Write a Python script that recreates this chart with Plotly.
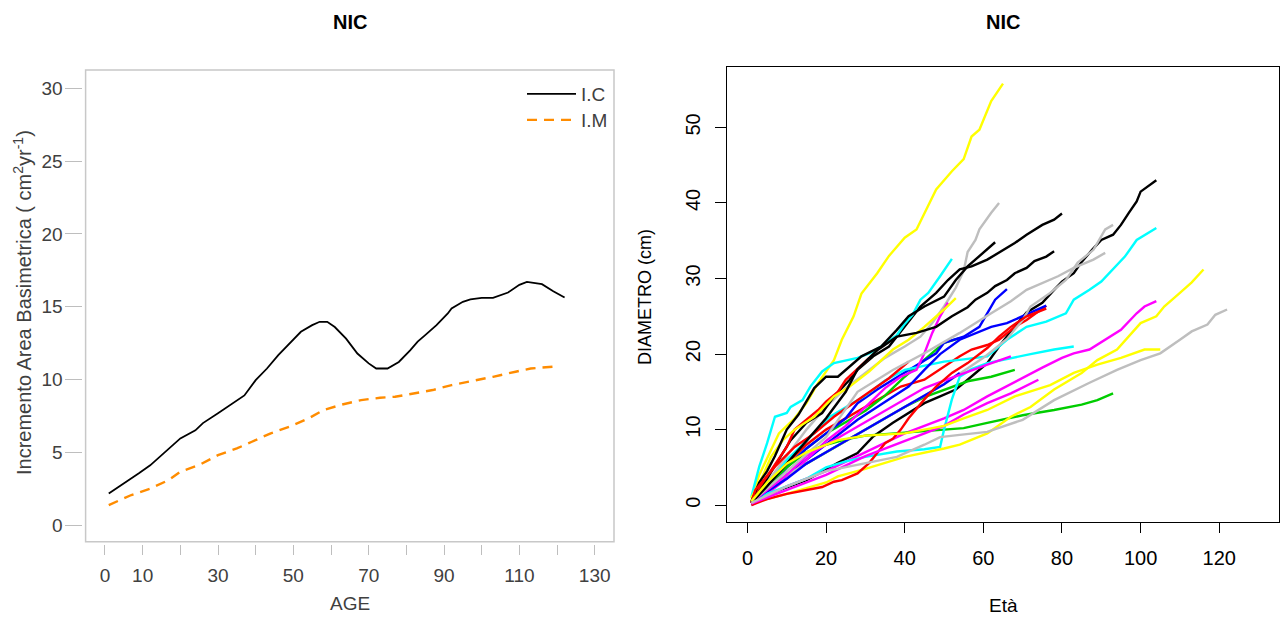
import plotly.graph_objects as go

# ---------------- Left panel data (basal area increment) ----------------
age_ic = [1, 3, 9, 12, 17, 20, 24, 26, 30, 34, 37, 40, 43, 46, 49, 52, 55, 57, 59, 61, 64, 67, 70, 72,
          75, 78, 81, 83, 85, 88, 91, 92, 95, 97, 100, 103, 107, 110, 112, 116, 119, 122]
val_ic = [2.17, 2.5, 3.55, 4.1, 5.26, 5.95, 6.5, 7.0, 7.67, 8.35, 8.9, 9.95, 10.75, 11.67, 12.47, 13.27,
          13.73, 13.96, 13.96, 13.6, 12.8, 11.78, 11.1, 10.75, 10.75, 11.2, 12.0, 12.6, 13.04, 13.73, 14.53,
          14.87, 15.33, 15.5, 15.6, 15.6, 15.97, 16.5, 16.7, 16.54, 16.06, 15.63]
age_im = [1, 7, 12, 17, 20, 25, 30, 35, 39, 44, 49, 54, 58, 63, 68, 73, 77, 82, 87, 92, 98, 103, 109, 113, 120]
val_im = [1.37, 2.06, 2.5, 3.1, 3.66, 4.12, 4.8, 5.26, 5.72, 6.3, 6.75, 7.32, 7.9, 8.28, 8.58, 8.74, 8.81,
          9.04, 9.27, 9.61, 9.91, 10.18, 10.53, 10.75, 10.9]
left_xticks = [0, 10, 30, 50, 70, 90, 110, 130]
left_xminor = [20, 40, 60, 80, 100, 120]
left_yticks = [0, 5, 10, 15, 20, 25, 30]

# ---------------- Right panel data (diameter growth per tree) ----------------
k1_age = [1, 6, 15, 23, 28, 32, 37, 41, 45, 49, 53, 56, 61, 64, 67, 71, 75, 78, 80, 83, 85, 88, 90, 93, 95, 97, 99, 100, 102, 104]
k1_dbh = [0.4, 1.6, 3.3, 5.6, 6.9, 9.1, 10.9, 12.2, 13.5, 14.4, 15.3, 16.6, 18.8, 21.0, 23.0, 25.5, 26.8, 28.5, 29.6, 30.7, 32.2, 34.0, 35.1, 35.8, 37.1, 38.7, 40.2, 41.5, 42.3, 43.0]
r1_age = [1, 5, 10, 15, 20, 25, 30, 35, 39, 45, 50, 54, 57, 61, 64, 68, 71, 74, 76]
r1_dbh = [0.3, 2.5, 5.5, 8.0, 10.0, 11.5, 13.0, 14.5, 15.7, 16.6, 18.3, 19.7, 20.6, 21.2, 21.9, 23.6, 24.5, 25.6, 26.4]
g1_age = [1, 5, 10, 15, 20, 25, 30, 35, 40, 44, 47, 50, 54]
g1_dbh = [0.5, 2.5, 5.0, 7.5, 9.5, 11.0, 12.5, 14.5, 17.0, 18.8, 20.1, 21.5, 22.1]
b1_age = [1, 5, 10, 15, 20, 25, 28, 33, 37, 41, 48, 50, 55, 59, 61, 63, 66]
b1_dbh = [0.3, 2.0, 5.0, 7.5, 9.5, 11.5, 13.5, 15.3, 16.6, 17.9, 20.1, 21.5, 22.3, 23.6, 25.4, 27.2, 28.6]
c1_age = [1, 5, 10, 15, 21, 30, 35, 40, 45, 50, 55, 61, 66, 71, 76, 81, 83, 87, 90, 93, 96, 99, 102, 104]
c1_dbh = [0.5, 3.0, 6.0, 8.5, 11.7, 14.5, 16.5, 17.9, 18.5, 19.0, 19.3, 19.7, 21.9, 23.6, 24.3, 25.4, 27.2, 28.5, 29.6, 31.2, 32.9, 35.1, 36.0, 36.7]
m1_age = [1, 10, 20, 30, 40, 50, 55, 61, 65, 70, 75, 80, 83, 87, 91, 95, 99, 101, 104]
m1_dbh = [0.0, 2.5, 4.5, 7.0, 9.5, 11.5, 12.6, 14.4, 15.5, 16.8, 18.2, 19.5, 20.1, 20.6, 21.9, 23.2, 25.4, 26.3, 27.0]
y1_age = [1, 3, 6, 8, 12, 15, 18, 22, 24, 27, 29, 33, 36, 38, 40, 43, 45, 48, 52, 55, 57, 59, 62, 65]
y1_dbh = [0.9, 4.0, 7.3, 9.5, 11.5, 13.5, 16.2, 19.2, 21.9, 25.0, 28.0, 30.7, 33.0, 34.2, 35.4, 36.5, 38.7, 41.8, 44.2, 45.8, 48.8, 49.7, 53.5, 55.8]
s1_age = [1, 5, 10, 15, 20, 25, 30, 35, 40, 44, 47, 50, 53, 55, 56, 58, 59, 61, 62, 64]
s1_dbh = [0.6, 3.0, 6.5, 10.0, 13.0, 15.5, 17.5, 19.5, 21.0, 22.3, 24.1, 26.3, 28.8, 31.0, 33.5, 35.1, 36.5, 38.0, 38.7, 40.0]

k2_age = [1, 5, 11, 15, 19, 22, 26, 28, 32, 36, 39, 44, 48, 51, 54, 57, 61, 64, 68, 71, 75, 78, 80]
k2_dbh = [0.4, 3.5, 8.6, 10.9, 12.2, 14.4, 16.6, 17.9, 19.7, 21.0, 23.0, 26.3, 28.1, 29.8, 31.2, 31.6, 32.5, 33.4, 34.7, 35.8, 37.1, 37.8, 38.6]
r2_age = [1, 2, 6, 10, 12, 15, 18, 20, 23, 25, 28, 31]
r2_dbh = [0.3, 1.6, 4.6, 7.7, 10.0, 11.3, 12.6, 13.7, 15.0, 16.6, 18.0, 19.5]
g2_age = [1, 5, 10, 15, 20, 25, 30, 35, 40, 45, 50, 56, 62, 68]
g2_dbh = [0.5, 2.0, 4.0, 5.5, 7.0, 8.5, 10.0, 11.5, 13.0, 14.3, 15.3, 16.4, 17.0, 17.9]
b2_age = [1, 5, 10, 15, 20, 25, 28, 33, 37, 41, 45, 49, 54, 62, 66, 70, 76]
b2_dbh = [0.2, 1.5, 4.0, 6.0, 8.0, 10.0, 11.3, 13.0, 14.4, 15.7, 17.9, 20.0, 21.9, 23.6, 24.1, 25.0, 26.4]
c2_age = [1, 3, 5, 7, 10, 11, 14, 16, 19, 22, 28, 31, 34, 38, 40, 42, 44, 46, 49, 52]
c2_dbh = [1.1, 5.1, 8.2, 11.7, 12.2, 13.0, 13.9, 15.7, 17.7, 18.8, 19.5, 20.1, 21.0, 22.5, 24.0, 25.2, 27.2, 28.1, 30.3, 32.6]
m2_age = [1, 5, 10, 15, 20, 25, 30, 35, 39, 43, 45, 47, 49, 51]
m2_dbh = [0.2, 1.5, 3.5, 6.0, 8.5, 10.5, 13.0, 15.5, 17.0, 17.9, 20.1, 22.8, 25.0, 26.8]
y2_age = [1, 4, 6, 9, 12, 17, 22, 26, 31, 37, 41, 45, 50, 53]
y2_dbh = [1.0, 4.0, 6.4, 8.6, 10.0, 11.7, 14.4, 15.7, 17.7, 20.6, 21.9, 23.6, 25.9, 27.4]
s2_age = [1, 10, 20, 30, 40, 50, 60, 66, 70, 72, 77, 81, 84, 88, 91, 93]
s2_dbh = [0.5, 4.0, 7.0, 10.0, 13.0, 16.0, 19.5, 22.0, 24.5, 26.3, 28.1, 29.8, 32.1, 33.8, 36.5, 37.1]

k3_age = [1, 3, 5, 7, 10, 13, 17, 20, 23, 26, 29, 34, 38, 41, 45, 50, 53, 56, 60, 63]
k3_dbh = [0.5, 3.0, 4.5, 6.5, 10.0, 12.0, 15.5, 17.0, 17.0, 18.3, 19.7, 21.0, 23.2, 25.0, 26.3, 27.6, 29.8, 31.6, 33.4, 34.8]
r3_age = [1, 2, 7, 12, 17, 22, 28, 32, 36, 41]
r3_dbh = [0.3, 2.0, 5.1, 7.7, 9.5, 11.7, 13.9, 15.3, 16.8, 19.0]
g3_age = [1, 5, 10, 15, 20, 25, 30, 40, 50, 55, 61, 70, 78, 85, 89, 93]
g3_dbh = [0.3, 2.5, 5.0, 7.0, 8.0, 8.7, 9.2, 9.6, 10.0, 10.2, 10.9, 11.9, 12.6, 13.3, 13.9, 14.8]
b3_age = [1, 5, 10, 15, 20, 25, 30, 35, 40, 45, 50, 54]
b3_dbh = [0.3, 1.8, 3.5, 5.5, 7.0, 8.5, 10.0, 11.5, 13.0, 14.5, 16.0, 17.5]
c3_age = [1, 5, 10, 15, 20, 25, 30, 38, 45, 49, 50, 52, 54, 57, 61, 67, 72, 78, 83]
c3_dbh = [0.0, 1.5, 2.5, 3.5, 5.0, 5.8, 6.4, 7.1, 7.4, 7.7, 10.0, 14.0, 17.0, 18.0, 18.8, 19.5, 20.0, 20.6, 21.0]
m3_age = [1, 5, 10, 15, 20, 25, 30, 35, 40, 45, 50, 55, 61, 67]
m3_dbh = [0.3, 2.0, 4.0, 6.5, 8.0, 9.5, 11.0, 12.5, 14.0, 15.5, 16.5, 17.5, 18.6, 19.7]
y3_age = [1, 10, 20, 23, 30, 40, 50, 54, 61, 67, 72, 78, 85, 89, 94, 97, 100, 104, 106, 110, 113, 116]
y3_dbh = [0.3, 1.5, 3.0, 3.8, 4.8, 6.4, 7.5, 8.0, 9.5, 11.7, 13.0, 15.3, 17.5, 19.2, 20.6, 22.3, 24.1, 25.0, 26.3, 28.1, 29.5, 31.2]
s3_age = [1, 10, 20, 28, 37, 45, 54, 62, 67, 71, 75, 79, 83, 88, 91]
s3_dbh = [0.4, 4.5, 9.0, 15.0, 17.9, 20.1, 22.8, 25.4, 27.0, 28.5, 29.4, 30.3, 31.4, 32.5, 33.4]

k4_age = [1, 5, 10, 15, 20, 25, 28, 33, 38, 43, 48, 52, 56, 58, 61, 63, 66, 68, 71, 73, 76, 78]
k4_dbh = [0.3, 2.5, 5.5, 8.5, 11.5, 15.0, 18.0, 20.5, 22.3, 22.8, 23.6, 25.0, 26.2, 27.2, 28.1, 29.0, 29.8, 30.7, 31.4, 32.3, 32.9, 33.6]
r4_age = [1, 5, 10, 15, 19, 22, 24, 28, 31, 33, 35, 37, 39, 41, 45, 48, 52, 56, 61, 64, 67, 71, 76]
r4_dbh = [0.0, 0.8, 1.5, 2.0, 2.4, 3.1, 3.3, 4.2, 5.6, 6.9, 8.2, 8.8, 10.0, 11.5, 14.0, 15.7, 17.5, 18.8, 20.8, 22.3, 23.6, 25.0, 26.0]
m4_age = [1, 10, 20, 30, 40, 50, 55, 61, 67, 74]
m4_dbh = [0.2, 2.0, 4.0, 6.5, 8.5, 10.5, 12.0, 13.5, 14.8, 16.6]
y4_age = [1, 5, 10, 15, 23, 30, 40, 50, 55, 61, 68, 77, 83, 89, 95, 101, 105]
y4_dbh = [0.5, 3.0, 5.5, 7.0, 8.6, 9.2, 9.5, 10.5, 11.5, 12.6, 14.4, 15.9, 17.5, 18.6, 19.5, 20.6, 20.6]
s4_age = [1, 10, 20, 30, 38, 45, 49, 54, 61, 70, 78, 87, 94, 100, 105, 110, 113, 117, 119, 122]
s4_dbh = [0.3, 2.5, 4.5, 5.5, 6.4, 8.0, 9.0, 9.3, 9.7, 11.3, 13.9, 16.2, 17.9, 19.2, 20.1, 21.9, 23.0, 23.9, 25.2, 25.9]

right_xticks = [0, 20, 40, 60, 80, 100, 120]
right_yticks = [0, 10, 20, 30, 40, 50]

# R default palette
BLACK, RED, GREEN, BLUE, CYAN, MAGENTA, YELLOW, GRAY = (
    "#000000", "#FF0000", "#00CD00", "#0000FF", "#00FFFF", "#FF00FF", "#FFFF00", "#BEBEBE")

trees = [
    (k1_age, k1_dbh, BLACK), (r1_age, r1_dbh, RED), (g1_age, g1_dbh, GREEN), (b1_age, b1_dbh, BLUE),
    (c1_age, c1_dbh, CYAN), (m1_age, m1_dbh, MAGENTA), (y1_age, y1_dbh, YELLOW), (s1_age, s1_dbh, GRAY),
    (k2_age, k2_dbh, BLACK), (r2_age, r2_dbh, RED), (g2_age, g2_dbh, GREEN), (b2_age, b2_dbh, BLUE),
    (c2_age, c2_dbh, CYAN), (m2_age, m2_dbh, MAGENTA), (y2_age, y2_dbh, YELLOW), (s2_age, s2_dbh, GRAY),
    (k3_age, k3_dbh, BLACK), (r3_age, r3_dbh, RED), (g3_age, g3_dbh, GREEN), (b3_age, b3_dbh, BLUE),
    (c3_age, c3_dbh, CYAN), (m3_age, m3_dbh, MAGENTA), (y3_age, y3_dbh, YELLOW), (s3_age, s3_dbh, GRAY),
    (k4_age, k4_dbh, BLACK), (r4_age, r4_dbh, RED), (m4_age, m4_dbh, MAGENTA), (y4_age, y4_dbh, YELLOW),
    (s4_age, s4_dbh, GRAY),
]

W, H = 1280, 617
FONT = "Liberation Sans, Arial, sans-serif"
GRAYTXT = "#404040"
TICKGRAY = "#bebebe"


def fx(p):
    return p / W


def fy(p):
    return 1 - p / H


fig = go.Figure()
fig.add_trace(go.Scatter(x=age_ic, y=val_ic, mode="lines", name="I.C", legend="legend",
                         line=dict(color="black", width=1.8), xaxis="x", yaxis="y"))
fig.add_trace(go.Scatter(x=age_im, y=val_im, mode="lines", name="I.M", legend="legend2",
                         line=dict(color="#FF8C00", width=2.4, dash="10px,7px"), xaxis="x", yaxis="y"))
for a, d, col in trees:
    fig.add_trace(go.Scatter(x=a, y=d, mode="lines", line=dict(color=col, width=2.4),
                             xaxis="x2", yaxis="y2", showlegend=False, hoverinfo="skip"))

legend_style = dict(xanchor="left", yanchor="middle", bgcolor="rgba(0,0,0,0)",
                    font=dict(family=FONT, size=19, color=GRAYTXT), itemwidth=49, tracegroupgap=0)

fig.update_layout(
    width=W, height=H, margin=dict(l=0, r=0, t=0, b=0),
    paper_bgcolor="white", plot_bgcolor="white",
    font=dict(family=FONT, size=16, color="black"),
    showlegend=True,
    legend=dict(x=fx(522), y=fy(94), **legend_style),
    legend2=dict(x=fx(522), y=fy(120), **legend_style),
    xaxis=dict(domain=[fx(82.5), fx(614)], range=[-5.97, 135.12], anchor="y",
               tickmode="array", tickvals=left_xticks,
               ticks="outside", ticklen=10, tickcolor=TICKGRAY, tickwidth=1,
               minor=dict(tickmode="array", tickvals=left_xminor, ticks="outside", ticklen=10,
                          tickcolor=TICKGRAY, tickwidth=1, showgrid=False),
               showline=False, showgrid=False, zeroline=False, ticklabelstandoff=5,
               tickfont=dict(family=FONT, size=19, color=GRAYTXT)),
    yaxis=dict(domain=[fy(543.5), fy(70)], range=[-1.271, 31.256], anchor="x",
               tickmode="array", tickvals=left_yticks,
               ticks="outside", ticklen=17, tickcolor=TICKGRAY, tickwidth=1,
               showline=False, showgrid=False, zeroline=False, ticklabelstandoff=-2,
               tickfont=dict(family=FONT, size=19, color=GRAYTXT)),
    xaxis2=dict(domain=[fx(727), fx(1279)], range=[-5.2, 135.2], anchor="y2",
                tickmode="array", tickvals=right_xticks,
                ticks="outside", ticklen=10, tickcolor="black", tickwidth=1,
                showline=True, mirror=True, linecolor="black", linewidth=1,
                showgrid=False, zeroline=False, ticklabelstandoff=8,
                tickfont=dict(family=FONT, size=20, color="black")),
    yaxis2=dict(domain=[fy(522), fy(67)], range=[-2.23, 58.0], anchor="x2",
                tickmode="array", tickvals=right_yticks, tickangle=-90,
                ticks="outside", ticklen=11, tickcolor="black", tickwidth=1,
                showline=True, mirror=True, linecolor="black", linewidth=1,
                showgrid=False, zeroline=False, ticklabelstandoff=7,
                tickfont=dict(family=FONT, size=20, color="black")),
    shapes=[dict(type="rect", xref="paper", yref="paper", x0=fx(85.6), x1=fx(614),
                 y0=fy(541.7), y1=fy(70), line=dict(color="#c8c8c8", width=1.5), layer="below")],
    annotations=[
        dict(text="<b>NIC</b>", x=fx(350), y=fy(22), xref="paper", yref="paper", showarrow=False,
             xanchor="center", yanchor="middle", font=dict(family=FONT, size=20, color="black")),
        dict(text="<b>NIC</b>", x=fx(1003), y=fy(22), xref="paper", yref="paper", showarrow=False,
             xanchor="center", yanchor="middle", font=dict(family=FONT, size=20, color="black")),
        dict(text="AGE", x=fx(350), y=fy(603), xref="paper", yref="paper", showarrow=False,
             xanchor="center", yanchor="middle", font=dict(family=FONT, size=19, color=GRAYTXT)),
        dict(text="Incremento Area Basimetrica ( cm<sup>2</sup>yr<sup>-1</sup>)", x=fx(22), y=fy(303),
             xref="paper", yref="paper", showarrow=False, textangle=-90,
             xanchor="center", yanchor="middle", font=dict(family=FONT, size=20, color=GRAYTXT)),
        dict(text="Età", x=fx(1003), y=fy(605), xref="paper", yref="paper", showarrow=False,
             xanchor="center", yanchor="middle", font=dict(family=FONT, size=19, color="black")),
        dict(text="DIAMETRO (cm)", x=fx(645), y=fy(297), xref="paper", yref="paper", showarrow=False,
             textangle=-90, xanchor="center", yanchor="middle",
             font=dict(family=FONT, size=18, color="black")),
    ],
)

fig.write_html("out.html")
